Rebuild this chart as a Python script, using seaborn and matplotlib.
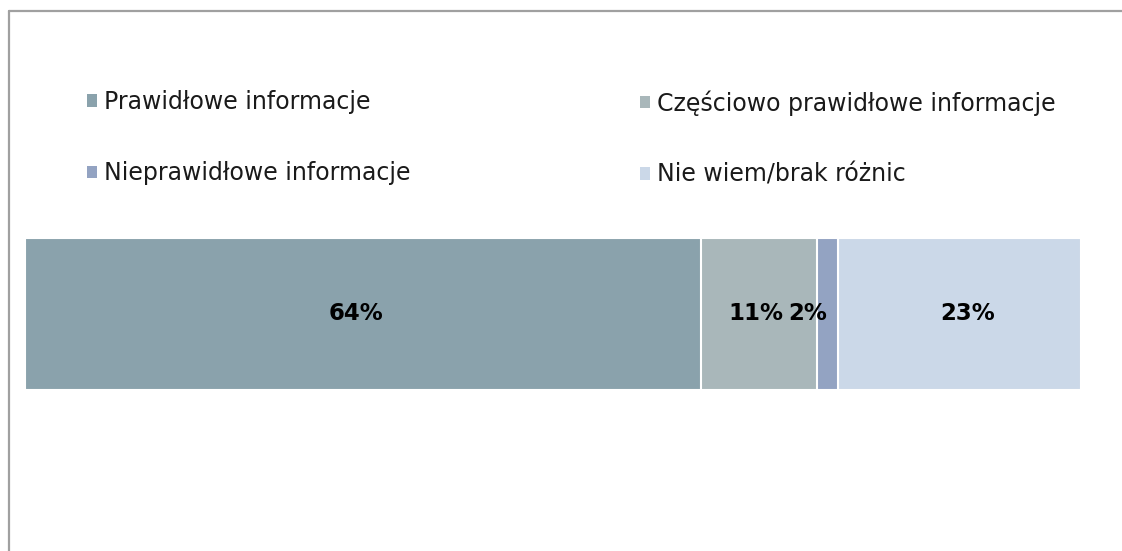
import matplotlib
matplotlib.use("Agg")
import matplotlib.pyplot as plt
import seaborn as sns
import numpy as np
import pandas as pd
from matplotlib.patches import Patch
from matplotlib.lines import Line2D

categories = ["Prawidłowe informacje", "Częściowo prawidłowe informacje",
              "Nieprawidłowe informacje", "Nie wiem/brak różnic"]
values = [64, 11, 2, 23]
value_labels = ["64%", "11%", "2%", "23%"]
colors = ["#8AA2AC", "#A9B7BA", "#93A3C2", "#CBD8E8"]

sns.set_theme(style="white")
plt.rcParams["font.family"] = ["DejaVu Sans"]

fig = plt.figure(figsize=(11.22, 5.51), dpi=100)
ax = fig.add_axes([25 / 1122, 1 - 390 / 551, (1081 - 25) / 1122, 152 / 551])

vals = np.array(values, dtype=float)
cum = np.cumsum(vals)
starts = cum - vals

# draw overlapping cumulative bars from largest to smallest -> stacked look
for i in reversed(range(len(values))):
    df = pd.DataFrame({"value": [cum[i]], "row": [""]})
    sns.barplot(data=df, x="value", y="row", orient="h", color=colors[i],
                saturation=1, edgecolor="white", linewidth=1.5, width=0.8, ax=ax)

ax.set_xlim(0, cum[-1])
ax.set_ylim(0.4, -0.4)
ax.axis("off")

label_offsets_pt = [-5, -2, -14, 6]
for i, lab in enumerate(value_labels):
    ax.annotate(lab, xy=(starts[i] + vals[i] / 2, 0), xytext=(label_offsets_pt[i], 0),
                textcoords="offset points", ha="center", va="center",
                fontsize=16.5, fontweight="bold", color="black")

# legend in two columns
handles = [Patch(facecolor=c, edgecolor="none", label=n) for c, n in zip(colors, categories)]
common = dict(frameon=False, fontsize=17, handlelength=0.42, handleheight=0.42,
              handletextpad=0.28, labelspacing=2.01, borderpad=0, borderaxespad=0,
              loc="upper left", labelcolor="#1a1a1a")
leg1 = fig.legend(handles=[handles[0], handles[2]], bbox_to_anchor=(87 / 1122, 1 - 90 / 551), **common)
leg2 = fig.legend(handles=[handles[1], handles[3]], bbox_to_anchor=(640 / 1122, 1 - 90 / 551), **common)

# outer frame (only left and top visible)
border_col = "#A0A0A0"
fig.add_artist(Line2D([9 / 1122, 9 / 1122], [0, 1 - 11 / 551], transform=fig.transFigure,
                      color=border_col, linewidth=1.6))
fig.add_artist(Line2D([9 / 1122, 1], [1 - 11 / 551, 1 - 11 / 551], transform=fig.transFigure,
                      color=border_col, linewidth=1.6))

fig.savefig("out.png", dpi=100, facecolor="white")
